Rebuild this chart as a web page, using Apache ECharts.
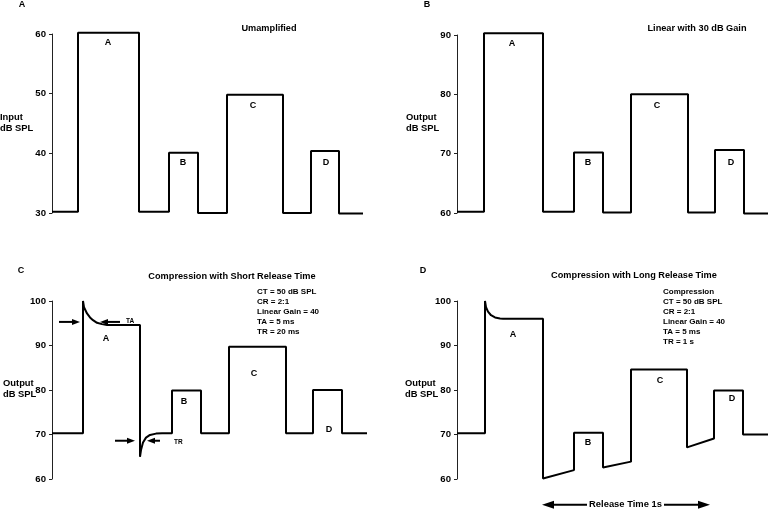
<!DOCTYPE html>
<html><head><meta charset="utf-8">
<script src="https://cdn.jsdelivr.net/npm/echarts@6/dist/echarts.min.js"></script>
<style>html,body{margin:0;padding:0;background:#fff}#c{width:769px;height:510px}</style>
</head><body><div id="c"></div>
<script>
// ---- Data: time along the trace (arbitrary units) and level (dB SPL) ----
const timeA  = [0,26,26,87,87,117,117,146,146,175,175,231,231,259,259,287,287,311];
const levelA = [30.2,30.2,60.2,60.2,30.2,30.2,40.1,40.1,30,30,49.8,49.8,30,30,40.4,40.4,29.9,29.9];

const timeB  = [0,27,27,86,86,117,117,146,146,174,174,231,231,258,258,287,287,311];
const levelB = [60.2,60.2,90.3,90.3,60.2,60.2,70.2,70.2,60.1,60.1,80,80,60.1,60.1,70.6,70.6,59.9,59.9];

const timeC  = [0,31,31,32,35,38,41,45,50,55,88,88,89,91,94,98,104,110,120,120,149,149,177,177,234,234,261,261,290,290,315];
const levelC = [70.3,70.3,100,98.6,97.2,96.3,95.7,95.1,94.8,94.6,94.6,65,66.5,68.2,69.3,69.9,70.2,70.3,70.3,79.9,79.9,70.3,70.3,89.7,89.7,70.3,70.3,80,80,70.3,70.3];

const timeD  = [0,28,28,29,31,34,38,43,46,86,86,117,117,146,146,174,174,230,230,257,257,286,286,311];
const levelD = [70.3,70.3,100,98.6,97.6,96.8,96.3,96.05,96,96,60.1,62,70.4,70.4,62.6,63.9,84.6,84.6,67.1,69.1,79.9,79.9,70,70];

// y-axis ranges
const yRangeA = [30, 60], yRangeB = [60, 90], yRangeC = [60, 100], yRangeD = [60, 100];
const xMax = [311, 311, 315, 311];

// Text
const segLetters = ['A', 'B', 'C', 'D'];
const panelLetters = ['A', 'B', 'C', 'D'];
const panelTitles = ['Umamplified', 'Linear with 30 dB Gain', 'Compression with Short Release Time', 'Compression with Long Release Time'];
const yNames = ['Input\ndB SPL', 'Output\ndB SPL', 'Output\ndB SPL', 'Output\ndB SPL'];
const paramsC = ['CT = 50 dB SPL', 'CR = 2:1', 'Linear Gain = 40', 'TA = 5 ms', 'TR = 20 ms'];
const paramsD = ['Compression', 'CT = 50 dB SPL', 'CR = 2:1', 'Linear Gain = 40', 'TA = 5 ms', 'TR = 1 s'];

// ---- Chart ----
const FONT = '"Liberation Sans", Arial, Helvetica, sans-serif';
const chart = echarts.init(document.getElementById('c'), null, {renderer: 'canvas'});

const grids = [
  {left: 52, top: 34, width: 311, height: 179},
  {left: 457, top: 35, width: 311, height: 178},
  {left: 52, top: 301, width: 315, height: 178},
  {left: 457, top: 301, width: 311, height: 178}
];
const ranges = [yRangeA, yRangeB, yRangeC, yRangeD];
const times = [timeA, timeB, timeC, timeD];
const levels = [levelA, levelB, levelC, levelD];

const option = {
  animation: false,
  backgroundColor: '#fff',
  grid: grids.map(g => Object.assign({containLabel: false, outerBoundsMode: 'none'}, g)),
  xAxis: grids.map((g, i) => ({gridIndex: i, type: 'value', min: 0, max: xMax[i], show: false})),
  yAxis: grids.map((g, i) => ({
    gridIndex: i, type: 'value', min: ranges[i][0], max: ranges[i][1], interval: 10,
    axisLine: {show: true, lineStyle: {color: '#222', width: 1}},
    axisTick: {show: true, length: 3, lineStyle: {color: '#222', width: 1}},
    axisLabel: {fontFamily: FONT, fontWeight: 'bold', fontSize: 9.6, color: '#000', margin: 6},
    splitLine: {show: false}
  })),
  series: grids.map((g, i) => ({
    type: 'line', xAxisIndex: i, yAxisIndex: i,
    data: times[i].map((t, k) => [t, levels[i][k]]),
    showSymbol: false, symbol: 'none', clip: false,
    lineStyle: {color: '#000', width: 2}
  }))
};
chart.setOption(option);

// ---- Annotations (text / arrows) ----
const gfx = [];
function px(g, pt) { return chart.convertToPixel({gridIndex: g}, pt); }
function txt(x, y, s, size, align, valign, lh) {
  gfx.push({type: 'text', x: x, y: y, silent: true, style: {
    text: s, font: 'bold ' + size + 'px ' + FONT, fill: '#000',
    textAlign: align || 'center', textVerticalAlign: valign || 'middle', lineHeight: lh || size * 1.2}});
}
function arrow(g, from, to, headLen, headHalf, w) {
  const p0 = px(g, from), p1 = px(g, to);
  const dx = p1[0] - p0[0], dy = p1[1] - p0[1], L = Math.hypot(dx, dy);
  const ux = dx / L, uy = dy / L;
  const bx = p1[0] - ux * headLen, by = p1[1] - uy * headLen;
  gfx.push({type: 'line', silent: true, shape: {x1: p0[0], y1: p0[1], x2: bx, y2: by}, style: {stroke: '#000', lineWidth: w}});
  gfx.push({type: 'polygon', silent: true, shape: {points: [[p1[0], p1[1]], [bx - uy * headHalf, by + ux * headHalf], [bx + uy * headHalf, by - ux * headHalf]]}, style: {fill: '#000'}});
}

// y-axis names (left-aligned block, centred on the axis middle)
const yNameLeft = [0, 406, 3, 405];
yNames.forEach((n, i) => {
  const mid = px(i, [0, (ranges[i][0] + ranges[i][1]) / 2]);
  txt(yNameLeft[i], mid[1] - 1, n, 9.4, 'left', 'middle', 11);
});

// panel letters and titles
const panelLetterPos = [[22, 5], [427, 5], [21, 271], [423, 271]];
const titlePos = [[269, 28], [697, 28], [232, 276], [634, 275]];
panelLetters.forEach((l, i) => txt(panelLetterPos[i][0], panelLetterPos[i][1], l, 9));
panelTitles.forEach((t, i) => txt(titlePos[i][0], titlePos[i][1], t, 9.2));

// segment letters (data coords)
const segPos = [
  [[56, 58.5], [131, 38.5], [201, 48], [274, 38.5]],
  [[55, 88.6], [131, 68.5], [200, 78.1], [274, 68.5]],
  [[54, 91.5], [132, 77.3], [202, 83.8], [277, 71.2]],
  [[56, 92.4], [131, 68.1], [203, 82.2], [275, 78.0]]
];
segPos.forEach((arr, g) => arr.forEach((p, k) => {
  const q = px(g, p); txt(q[0], q[1], segLetters[k], 9);
}));

// parameter blocks
txt(257, 287, paramsC.join('\n'), 8, 'left', 'top', 10);
txt(663, 287, paramsD.join('\n'), 8, 'left', 'top', 10);

// TA / TR arrows in panel C
arrow(2, [7, 95.3], [28, 95.3], 8, 3, 2);
arrow(2, [68, 95.3], [48, 95.3], 8, 3, 2);
(function(){ const q = px(2, [74, 95.4]); txt(q[0], q[1], 'TA', 6.5, 'left'); })();
arrow(2, [63, 68.6], [83, 68.6], 8, 3, 2);
arrow(2, [108, 68.6], [95, 68.6], 8, 3, 2);
(function(){ const q = px(2, [122, 68.3]); txt(q[0], q[1], 'TR', 6.5, 'left'); })();

// Release time arrow in panel D
arrow(3, [130, 54.2], [85, 54.2], 12, 4, 2);
arrow(3, [207, 54.2], [253, 54.2], 12, 4, 2);
(function(){ const q = px(3, [168.5, 54.2]); txt(q[0], q[1], 'Release Time 1s', 9.4); })();

chart.setOption({graphic: gfx});
</script>
</body></html>
